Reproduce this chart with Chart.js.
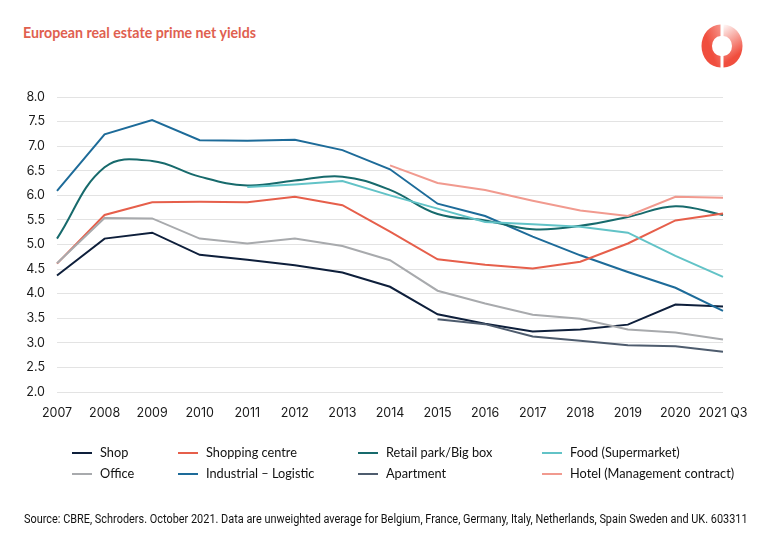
<!DOCTYPE html>
<html>
<head>
<meta charset="utf-8">
<script src="https://cdn.jsdelivr.net/npm/chart.js@4"></script>
<style>
  body { margin: 0; background: #fff; }
  #wrap { position: relative; width: 770px; height: 546px; overflow: hidden; }
  #title { position: absolute; left: 23px; top: 24px; font: 700 14.2px Lato, sans-serif; color: #e0604f; }
  #logo { position: absolute; left: 700px; top: 23px; }
  canvas { position: absolute; left: 0; top: 0; }
  #legend { position: absolute; left: 0; top: 443px; width: 770px; font: 14px Lato, sans-serif; color: #111; }
  .item { position: absolute; white-space: nowrap; }
  .item span.sw { display: inline-block; width: 20px; height: 2px; vertical-align: middle; margin-right: 8px; }
  .item span.txt { display: inline-block; transform-origin: left center; }
  #source { position: absolute; left: 24px; top: 512px; font: 12px Roboto, sans-serif; color: #111; white-space: nowrap; transform-origin: left center; }
</style>
</head>
<body>
<div id="wrap">
  <div id="title">European real estate prime net yields</div>
  <svg id="logo" width="44" height="46" viewBox="-22 -23 44 46">
    <defs>
      <linearGradient id="fade" x1="0" y1="0" x2="0.3" y2="1">
        <stop offset="0" stop-color="#f04e3e" stop-opacity="0.03"/>
        <stop offset="0.85" stop-color="#f04e3e"/>
      </linearGradient>
      <linearGradient id="fadeL" x1="1" y1="0" x2="0.4" y2="0.5">
        <stop offset="0" stop-color="#f04e3e" stop-opacity="0.6"/>
        <stop offset="1" stop-color="#f04e3e"/>
      </linearGradient>
    </defs>
    <path d="M -1.5 -21.5 A 19 21.5 0 0 0 -1.5 21.5 L -1.5 10 A 8.5 10 0 0 1 -1.5 -10 Z" fill="url(#fadeL)"/>
    <path d="M 1.5 -21.5 A 19 21.5 0 0 1 1.5 21.5 L 1.5 10 A 8.5 10 0 0 0 1.5 -10 Z" fill="url(#fade)"/>
  </svg>
  <canvas id="myChart" width="770" height="546"></canvas>
  <div id="legend"></div>
  <div id="source">Source: CBRE, Schroders. October 2021. Data are unweighted average for Belgium, France, Germany, Italy, Netherlands, Spain Sweden and UK. 603311</div>
</div>
<script>
'use strict';

let years = ['2007', '2008', '2009', '2010', '2011', '2012', '2013', '2014', '2015', '2016', '2017', '2018', '2019', '2020', '2021 Q3'];

let shop = [4.37, 5.12, 5.24, 4.79, 4.69, 4.58, 4.43, 4.14, 3.58, 3.39, 3.23, 3.27, 3.37, 3.78, 3.74];
let shoppingCentre = [4.61, 5.60, 5.86, 5.87, 5.86, 5.97, 5.80, 5.26, 4.70, 4.59, 4.51, 4.65, 5.02, 5.49, 5.63];
let retailPark = [5.12, 6.57, 6.70, 6.38, 6.20, 6.30, 6.38, 6.11, 5.62, 5.49, 5.31, 5.38, 5.56, 5.78, 5.60];
let food = [null, null, null, null, 6.17, 6.22, 6.29, 6.00, 5.73, 5.46, 5.41, 5.36, 5.24, 4.77, 4.34];
let office = [4.62, 5.54, 5.53, 5.12, 5.02, 5.12, 4.97, 4.68, 4.06, 3.80, 3.57, 3.49, 3.27, 3.21, 3.07];
let industrial = [6.09, 7.24, 7.53, 7.12, 7.11, 7.13, 6.92, 6.53, 5.83, 5.58, 5.16, 4.78, 4.44, 4.12, 3.65];
let apartment = [null, null, null, null, null, null, null, null, 3.48, 3.38, 3.13, 3.04, 2.95, 2.93, 2.82];
let hotel = [null, null, null, null, null, null, null, 6.61, 6.25, 6.11, 5.89, 5.69, 5.58, 5.97, 5.95];

let yTicks = [2.0, 2.5, 3.0, 3.5, 4.0, 4.5, 5.0, 5.5, 6.0, 6.5, 7.0, 7.5, 8.0];

// legend order: row by row, 4 columns
let series = [
  { label: 'Shop', data: shop, color: '#0e1f3b', smooth: false },
  { label: 'Shopping centre', data: shoppingCentre, color: '#e65f4b', smooth: false },
  { label: 'Retail park/Big box', data: retailPark, color: '#176a6c', smooth: true },
  { label: 'Food (Supermarket)', data: food, color: '#62c3c7', smooth: false },
  { label: 'Office', data: office, color: '#a8aaad', smooth: false },
  { label: 'Industrial \u2013 Logistic', data: industrial, color: '#1d6b99', smooth: false },
  { label: 'Apartment', data: apartment, color: '#4e5c6e', smooth: false },
  { label: 'Hotel (Management contract)', data: hotel, color: '#f19a8f', smooth: false },
];

let legendCols = [72, 178, 358, 542];
let legend = document.getElementById('legend');
let txtSpans = [];
for (let i = 0; i < series.length; i++) {
  let div = document.createElement('div');
  div.className = 'item';
  div.style.left = legendCols[i % 4] + 'px';
  div.style.top = (Math.floor(i / 4) * 21) + 'px';
  div.innerHTML = '<span class="sw" style="background:' + series[i].color + '"></span><span class="txt">' + series[i].label + '</span>';
  legend.appendChild(div);
  txtSpans.push(div.querySelector('.txt'));
}
// squeeze text so the widest label fits like the original
let squeeze = 164 / txtSpans[7].offsetWidth;
txtSpans.forEach(function (s) { s.style.transform = 'scaleX(' + squeeze + ')'; });

let source = document.getElementById('source');
source.style.transform = 'scaleX(' + (724 / source.offsetWidth) + ')';

let datasets = [];
// draw order: greys underneath
let drawOrder = [4, 6, 3, 7, 1, 2, 5, 0];
for (let k = 0; k < drawOrder.length; k++) {
  let s = series[drawOrder[k]];
  datasets.push({
    label: s.label,
    data: s.data,
    borderColor: s.color,
    backgroundColor: s.color,
    borderWidth: 2,
    pointRadius: 0,
    tension: s.smooth ? 0.4 : 0,
    fill: false,
  });
}

let ctx = document.getElementById('myChart').getContext('2d');
let myChart = new Chart(ctx, {
  type: 'line',
  data: { labels: years, datasets: datasets },
  options: {
    responsive: false,
    animation: false,
    layout: { padding: { top: 97, right: 47, bottom: 124, left: 0 } },
    plugins: { legend: { display: false }, tooltip: { enabled: false } },
    scales: {
      x: {
        offset: false,
        grid: { display: false, drawTicks: false },
        border: { display: false },
        ticks: { color: '#1a1a1a', font: { family: 'Inter', size: 12.5 }, padding: 14, maxRotation: 0, autoSkip: false },
        afterFit: function (scale) { scale.height = 30; },
      },
      y: {
        min: 2,
        max: 8,
        afterBuildTicks: function (scale) { scale.ticks = yTicks.map(function (v) { return { value: v }; }); },
        grid: { color: '#e3e3e3', lineWidth: 1, drawTicks: false },
        border: { display: false },
        ticks: {
          color: '#1a1a1a',
          font: { family: 'Inter', size: 12.5 },
          padding: 12,
          callback: function (v) { return Number(v).toFixed(1); },
        },
        afterFit: function (scale) { scale.width = 57; },
      },
    },
  },
});
</script>
</body>
</html>
